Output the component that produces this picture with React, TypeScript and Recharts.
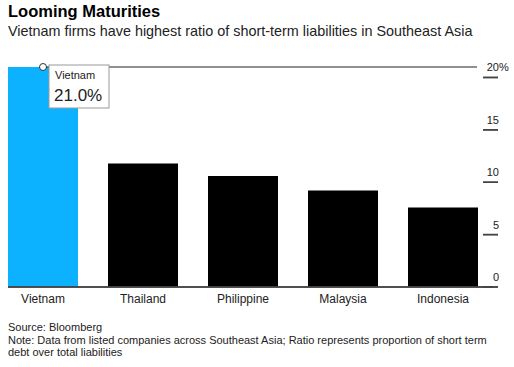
import React from 'react';
import { BarChart, Bar, XAxis, YAxis, Cell, ReferenceDot } from 'recharts';

const countries = ['Vietnam', 'Thailand', 'Philippine', 'Malaysia', 'Indonesia'];
const ratios = [21.0, 11.8, 10.6, 9.2, 7.6];
const yTicks = [0, 5, 10, 15, 20];

const chartData = countries.map((name, i) => ({ name, ratio: ratios[i] }));

const FONT = '"Liberation Sans", Arial, Helvetica, sans-serif';
const PLOT_RIGHT = 493;

// labels of the right axis sit above a short mark; 0 gets the long baseline
const renderRightTick = (props: any) => {
    const { x, y, payload, index } = props;
    const v = payload.value;
    const axisX = x - 15;
    const left = v === 0 ? 8 : axisX - 10;
    return (
        <g key={`tick-${index}`}>
            <rect x={left} y={y - 0.75} width={axisX + 5 - left} height={1.5} fill="#444" stroke="none" />
            <text x={x - 9} y={y - 6} textAnchor="end" fontSize={11} fill="#222" fontFamily={FONT}>
                {v}
            </text>
            {v === 20 && (
                <text x={x - 9} y={y - 6} textAnchor="start" fontSize={11} fill="#222" fontFamily={FONT}>
                    %
                </text>
            )}
        </g>
    );
};

// dot on top of the Vietnam bar, line across the chart and the value box
const CalloutDot = (props: any) => {
    const { cx, cy } = props;
    return (
        <g>
            <rect x={cx} y={cy - 0.5} width={PLOT_RIGHT - 16 - cx} height={1} fill="#222" />
            <rect x={cx + 6} y={cy - 2} width={60} height={43} fill="#fff" stroke="#999" strokeWidth={1} />
            <text x={cx + 12} y={cy + 12} fontSize={11} fill="#222" fontFamily={FONT}>
                {countries[0]}
            </text>
            <text x={cx + 11} y={cy + 34} fontSize={17} fill="#222" fontFamily={FONT}>
                {ratios[0].toFixed(1)}%
            </text>
            <circle cx={cx} cy={cy} r={3.5} fill="#fff" stroke="#333" strokeWidth={1} />
        </g>
    );
};

export default function App() {
    return (
        <div style={{ position: 'absolute', left: 0, top: 0, width: 514, height: 367, background: '#fff', fontFamily: FONT }}>
            <div style={{ position: 'absolute', left: 8, top: 2, fontSize: 16.5, fontWeight: 'bold', color: '#000', lineHeight: '18px' }}>
                Looming Maturities
            </div>
            <div style={{ position: 'absolute', left: 8, top: 23, fontSize: 14.4, color: '#222', lineHeight: '16px' }}>
                Vietnam firms have highest ratio of short-term liabilities in Southeast Asia
            </div>
            <BarChart
                width={514}
                height={367}
                data={chartData}
                margin={{ top: 67, right: 0, bottom: 50, left: -7 }}
            >
                <XAxis
                    dataKey="name"
                    axisLine={{ stroke: '#444', strokeWidth: 1.5, strokeDasharray: '0 15 490 100' }}
                    tickLine={false}
                    tickSize={0}
                    tickMargin={7}
                    height={30}
                    interval={0}
                    tick={{ fontSize: 12, fill: '#222', fontFamily: FONT }}
                />
                <YAxis
                    orientation="right"
                    domain={[0, 21]}
                    ticks={yTicks}
                    axisLine={false}
                    tickLine={{ stroke: '#444', strokeWidth: 1.5, transform: 'translate(-10,0)' }}
                    tickSize={15}
                    tickMargin={0}
                    width={21}
                    tick={renderRightTick}
                />
                <Bar dataKey="ratio" barSize={70} isAnimationActive={false}>
                    {chartData.map((d, i) => (
                        <Cell key={d.name} fill={i === 0 ? '#0cb2ff' : '#000'} />
                    ))}
                </Bar>
                <ReferenceDot x={countries[0]} y={ratios[0]} shape={<CalloutDot />} />
            </BarChart>
            <div style={{ position: 'absolute', left: 8, top: 321, fontSize: 11, color: '#222', lineHeight: '12.5px', width: 500 }}>
                Source: Bloomberg
                <br />
                Note: Data from listed companies across Southeast Asia; Ratio represents proportion of short term
                <br />
                debt over total liabilities
            </div>
        </div>
    );
}
